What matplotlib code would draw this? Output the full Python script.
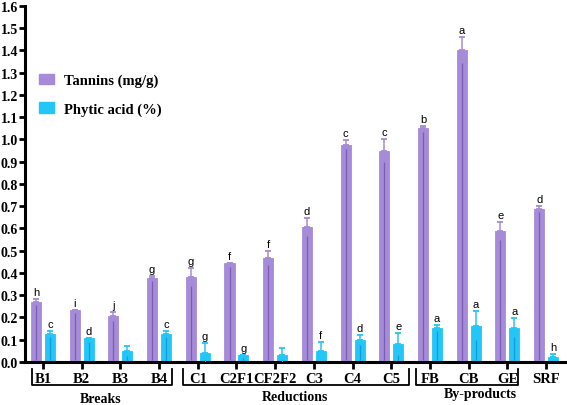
import matplotlib
matplotlib.use("Agg")
import matplotlib.pyplot as plt
from matplotlib.patches import Patch
import numpy as np

# data
samples = ["B1", "B2", "B3", "B4", "C1", "C2F1", "CF2F2", "C3", "C4", "C5",
           "FB", "CB", "GE", "SRF"]
tannins = [0.271, 0.235, 0.205, 0.377, 0.382, 0.443, 0.467, 0.605, 0.977, 0.950,
           1.050, 1.402, 0.590, 0.688]
tannins_err = [0.012, 0.0, 0.021, 0.011, 0.042, 0.0, 0.033, 0.041, 0.022, 0.050,
               0.012, 0.060, 0.040, 0.012]
tannins_let = ["h", "i", "j", "g", "g", "f", "f", "d", "c", "c", "b", "a", "e", "d"]
phytic = [0.126, 0.106, 0.051, 0.126, 0.040, 0.033, 0.033, 0.051, 0.099, 0.080,
          0.153, 0.163, 0.154, 0.024]
phytic_err = [0.012, 0.0, 0.022, 0.012, 0.044, 0.0, 0.031, 0.040, 0.022, 0.050,
              0.013, 0.065, 0.042, 0.012]
phytic_let = ["c", "d", "", "c", "g", "g", "", "f", "d", "e", "a", "a", "a", "h"]

groups = ["Breaks", "Reductions", "By-products"]
group_span = [(-0.29, 3.33), (3.61, 9.46), (9.64, 12.27)]
group_text_x = [1.5, 6.5, 11.3]
group_text_y = [-0.113, -0.108, -0.097]

purple = "#a68bd9"
purple_dark = "#7b5db5"
blue = "#22c7f7"
blue_dark = "#1a98d4"

serif = "Liberation Serif"
sans = "Liberation Sans"

fig = plt.figure(figsize=(5.67, 4.06), dpi=100)
ax = fig.add_axes([0.044, 0.106, 0.954, 0.877])

x = np.arange(len(samples))
off = 0.18
w = 0.26

for xs, vals, errs, lets, fc, dc in [
        (x - off, tannins, tannins_err, tannins_let, purple, purple_dark),
        (x + off, phytic, phytic_err, phytic_let, blue, blue_dark)]:
    vals = np.array(vals)
    errs = np.array(errs)
    ax.bar(xs, vals, width=w, color=fc, edgecolor=fc, linewidth=0.6, zorder=2)
    ax.errorbar(xs, vals, yerr=[np.zeros_like(errs), errs], fmt="none",
                ecolor=fc, elinewidth=1.1, capsize=2.5, capthick=1.3, zorder=3)
    # darker line inside the bar from the lower error half
    ax.vlines(xs, 0.008, vals - np.maximum(errs, 0.015), colors=dc,
              linewidth=0.9, zorder=3)
    for xi, v, e, l in zip(xs, vals, errs, lets):
        if l:
            ax.annotate(l, (xi, v + e), xytext=(0, 1.5), textcoords="offset points",
                        ha="center", va="bottom", fontsize=8, family=sans)

ax.set_xlim(-0.465, 13.51)
ax.set_ylim(0, 1.6)
ax.set_yticks(np.arange(0, 1.61, 0.1))
ax.set_yticklabels([f"{t:.1f}" for t in np.arange(0, 1.61, 0.1)],
                   fontsize=10, fontweight="bold", family=serif)
ax.set_xticks(x)
ax.set_xticklabels(samples, fontsize=10.5, fontweight="bold", family=serif)

for s in ["top", "right"]:
    ax.spines[s].set_visible(False)
for s in ["left", "bottom"]:
    ax.spines[s].set_linewidth(2.2)
ax.tick_params(axis="y", length=4, width=2, pad=1)
ax.tick_params(axis="x", length=5, width=2, pad=2.5)

# group brackets under the tick labels
tr = ax.get_xaxis_transform()
for (a, b), name, tx, ty in zip(group_span, groups, group_text_x, group_text_y):
    ax.plot([a, a, b, b], [-0.02, -0.065, -0.065, -0.02], color="black",
            linewidth=1.3, transform=tr, clip_on=False)
    ax.text(tx, ty, name, transform=tr, ha="center", va="baseline",
            fontsize=10, fontweight="bold", family=serif)

handles = [Patch(facecolor=purple, edgecolor=purple), Patch(facecolor=blue, edgecolor=blue)]
ax.legend(handles, ["Tannins (mg/g)", "Phytic acid (%)"], loc="upper left",
          bbox_to_anchor=(0.026, 0.81), frameon=False, borderpad=0, borderaxespad=0,
          handlelength=1.05, handleheight=0.7, handletextpad=0.65, labelspacing=1.05,
          prop={"family": serif, "weight": "bold", "size": 10.5})

fig.savefig("out.png", dpi=100)
